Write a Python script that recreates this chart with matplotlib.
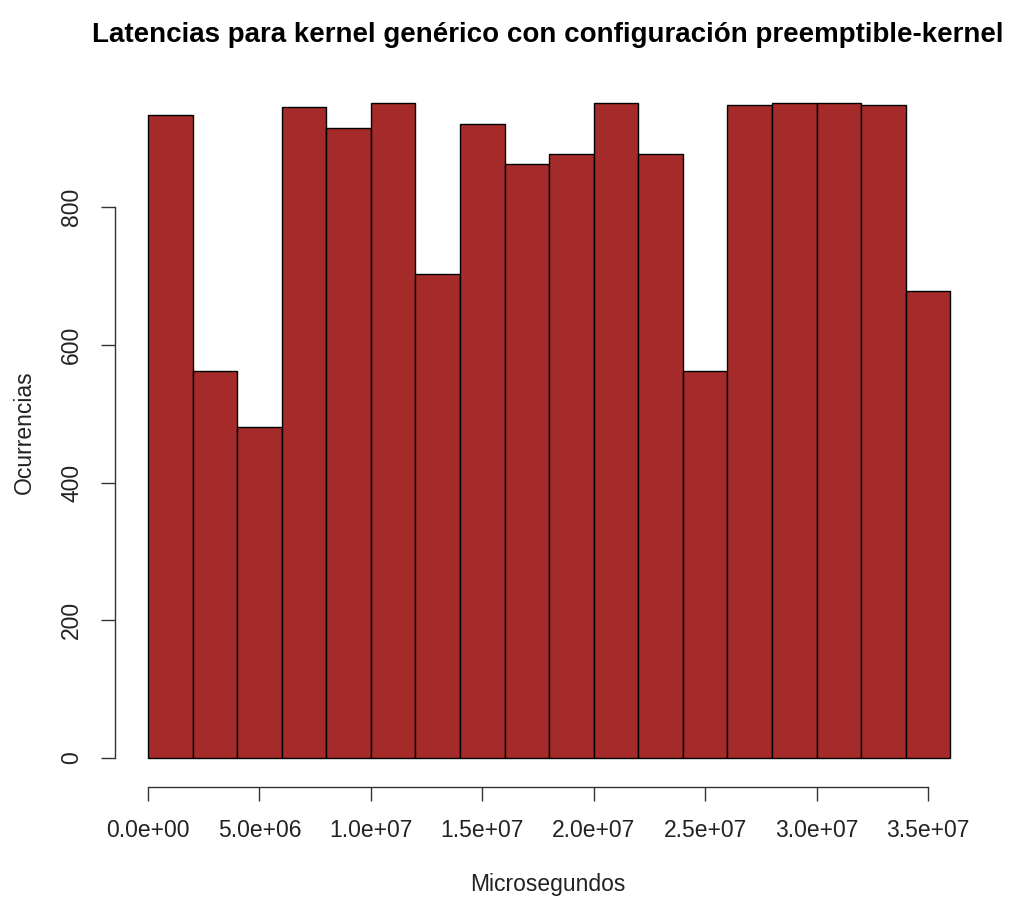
import numpy as np
import matplotlib
matplotlib.use("Agg")
import matplotlib.pyplot as plt

plt.rcParams['font.family'] = ['Liberation Sans', 'DejaVu Sans']

# histogram bins (microseconds) and counts
bin_start = 0.0
bin_width = 2.0e6
counts = [933, 562, 481, 945, 914, 951, 703, 920, 862,
          877, 951, 877, 562, 948, 951, 951, 948, 678]
x_ticks = [0, 5e6, 1e7, 1.5e7, 2e7, 2.5e7, 3e7, 3.5e7]
x_labels = ["0.0e+00", "5.0e+06", "1.0e+07", "1.5e+07",
            "2.0e+07", "2.5e+07", "3.0e+07", "3.5e+07"]
y_ticks = [0, 200, 400, 600, 800]

W, H = 1011, 897
fig = plt.figure(figsize=(W / 100, H / 100), dpi=100)

# plot region in pixels (R-style)
left, right, top, bottom = 115, 980, 80, 787
ax = fig.add_axes([left / W, 1 - bottom / H, (right - left) / W, (bottom - top) / H])

edges = bin_start + bin_width * np.arange(len(counts) + 1)
ax.bar(edges[:-1], counts, width=bin_width, align='edge',
       color='#A52A2A', edgecolor='black', linewidth=1.0)

px_x = 780 / 3.5e7
px_y = 551 / 800
ax.set_xlim((left - 148) / px_x, (right - 148) / px_x)
ax.set_ylim(-(bottom - 758) / px_y, (758 - top) / px_y)

for s in ['top', 'right']:
    ax.spines[s].set_visible(False)
ax.spines['left'].set_bounds(0, 800)
ax.spines['bottom'].set_bounds(0, 3.5e7)
for s in ['left', 'bottom']:
    ax.spines[s].set_color('#333333')
    ax.spines[s].set_linewidth(1.0)

ax.set_xticks(x_ticks)
ax.set_xticklabels(x_labels)
ax.set_yticks(y_ticks)
ax.set_yticklabels([str(v) for v in y_ticks], rotation=90, va='center')
ax.tick_params(axis='both', length=10, width=1.0, color='#333333',
               labelsize=16.5, labelcolor='#222222', pad=13)

fig.text(548 / W, 1 - 884 / H, "Microsegundos", ha='center', va='center',
         fontsize=16.5, color='#222222')
fig.text(24 / W, 1 - 432 / H, "Ocurrencias", ha='center', va='center',
         rotation=90, fontsize=16.5, color='#222222')
fig.text(548 / W, 1 - 35 / H,
         "Latencias para kernel genérico con configuración preemptible-kernel",
         ha='center', va='center', fontsize=20, fontweight='bold', color='black')

fig.savefig('out.png', dpi=100)
